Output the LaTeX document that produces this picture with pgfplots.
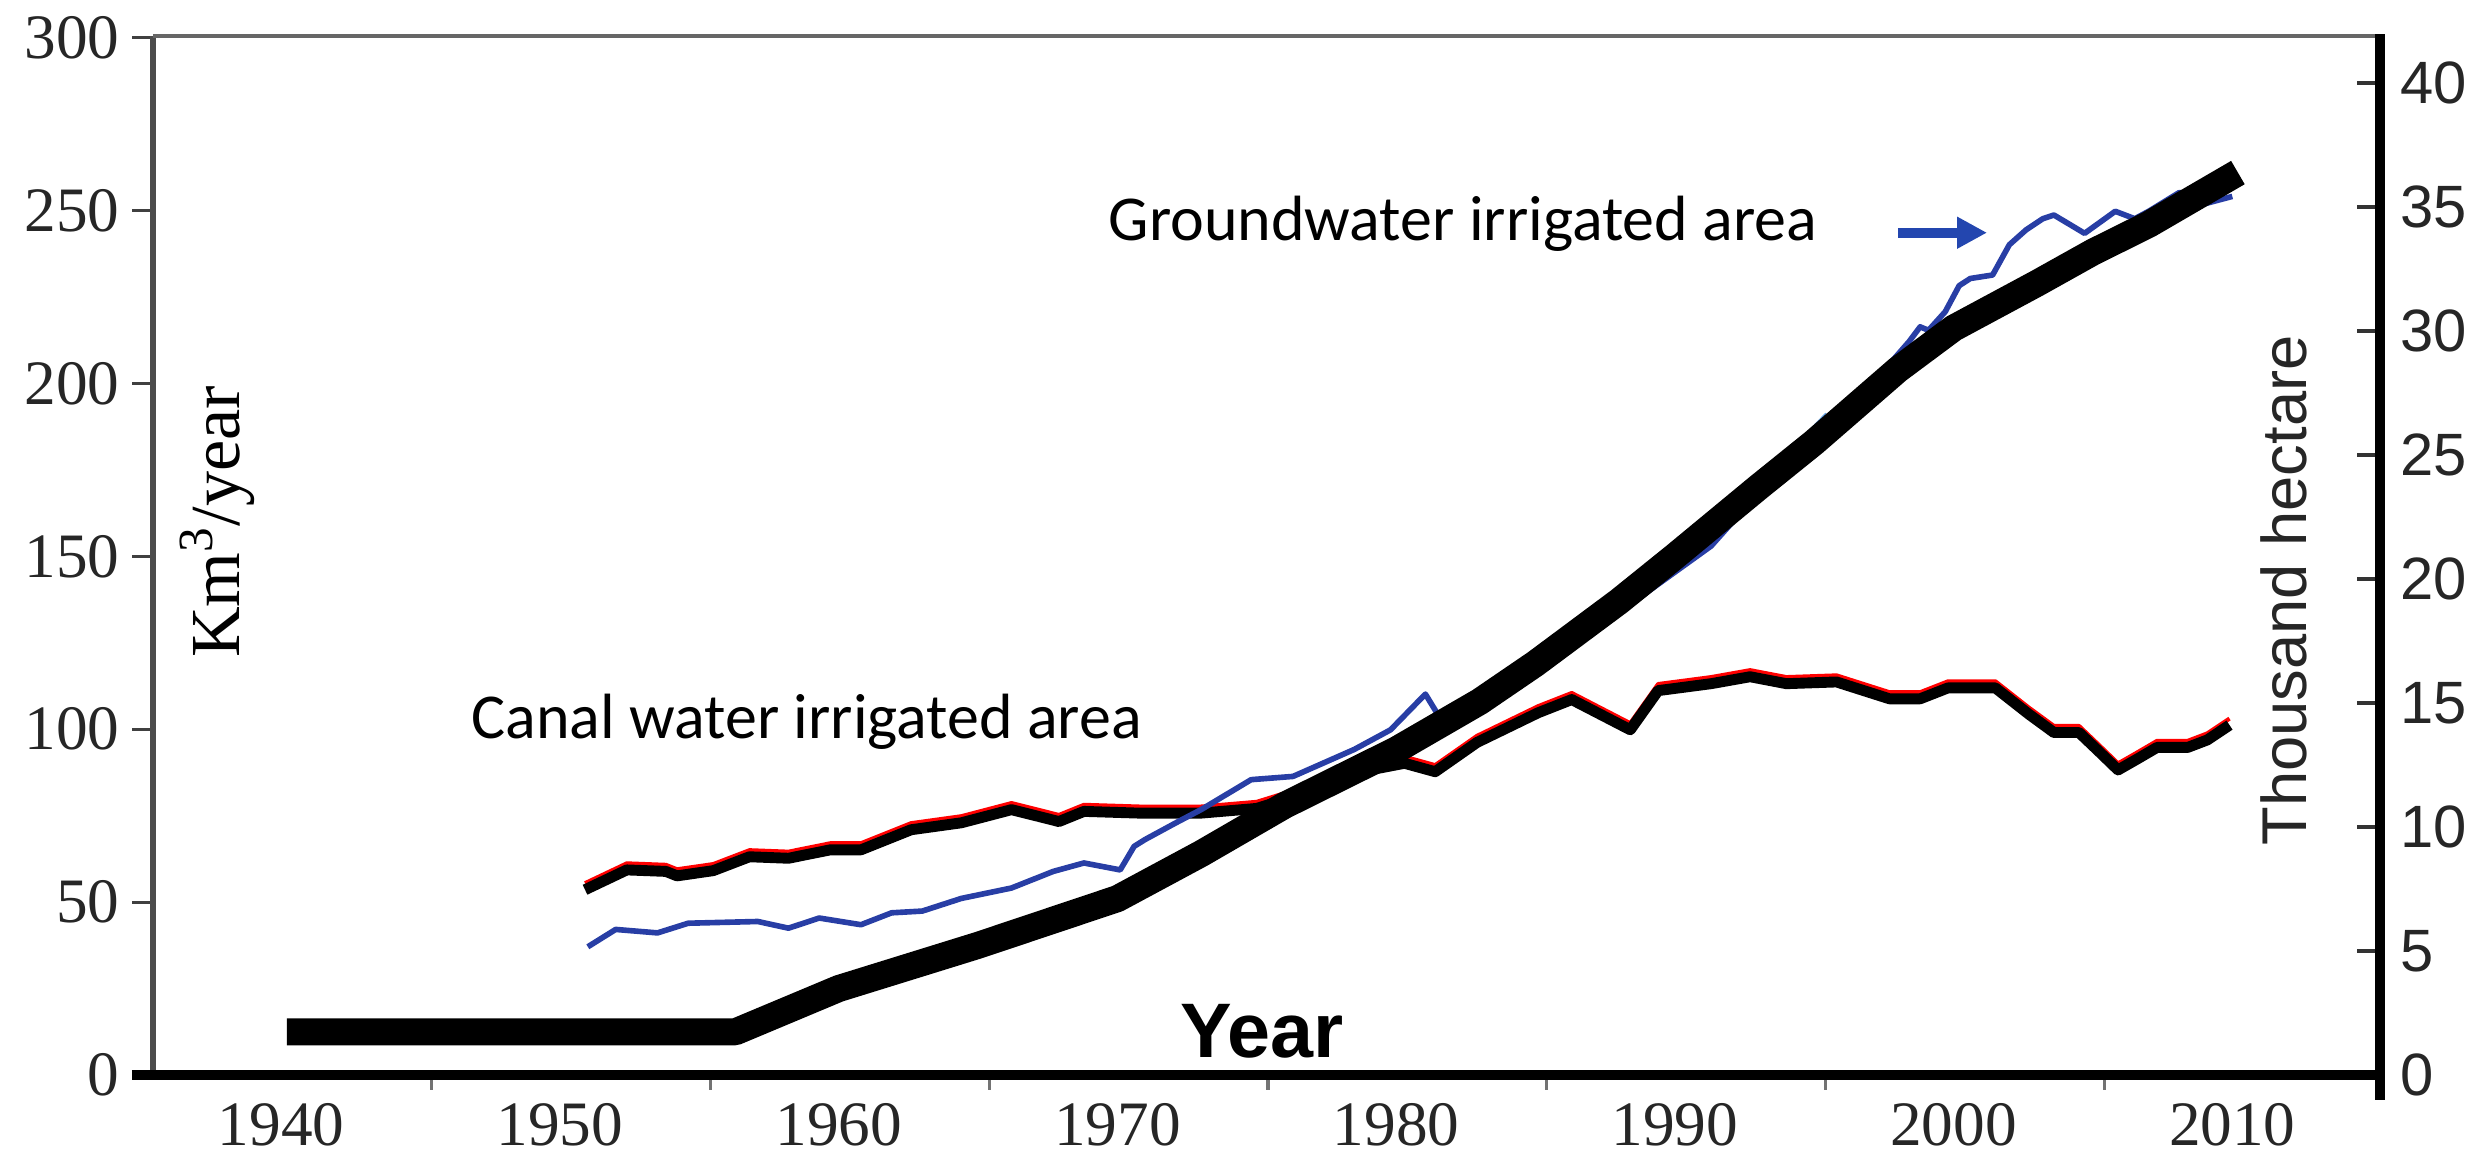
\documentclass[border=0pt]{standalone}
\usepackage{fontspec}
\setmainfont{Liberation Serif}
\newfontfamily\arial{Liberation Sans}
\newfontfamily\calibri{Carlito}
\usepackage{pgfplots}
\pgfplotsset{compat=1.18}
\usetikzlibrary{arrows.meta}
\definecolor{gwblue}{RGB}{40,62,165}
\definecolor{lightblue}{RGB}{100,160,225}
\definecolor{arrowblue}{RGB}{35,70,175}
\begin{document}
\begin{tikzpicture}
% ---------- right axis: irrigated areas (thousand hectare) ----------
\begin{axis}[
  at={(0,0)}, anchor=south west,
  scale only axis, width=22.27cm, height=10.39cm,
  xmin=1935.4, xmax=2015.3, ymin=0, ymax=41.9,
  axis x line=none, axis y line*=right,
  axis line style={draw=none},
  ytick={0,5,10,15,20,25,30,35,40},
  yticklabels={0,5,10,15,20,25,30,35,40},
  tick align=inside, major tick length=0.23cm,
  y tick style={black!80, line width=1pt},
  yticklabel style={font=\arial\fontsize{17}{17}\selectfont, black!85, anchor=west, xshift=0.08cm},
  clip=false,
]
\addplot[red, line width=1.2pt, line join=round, yshift=0.065cm] coordinates {
(1950.9,7.47)(1952.4,8.27)(1953.8,8.21)(1954.2,8.03)(1955.5,8.24)(1956.8,8.80)(1958.2,8.74)(1959.7,9.08)(1960.8,9.08)(1962.6,9.89)(1964.4,10.17)(1966.2,10.70)(1967.2,10.42)(1967.9,10.22)(1968.8,10.63)(1970.8,10.56)(1973,10.56)(1975,10.75)(1977,11.45)(1979,12.29)(1980.3,12.57)(1981.4,12.23)(1982.9,13.41)(1985.1,14.61)(1986.3,15.14)(1988.4,13.92)(1989.4,15.50)(1991.3,15.78)(1992.7,16.06)(1994,15.78)(1995.8,15.85)(1997.7,15.17)(1998.8,15.17)(1999.8,15.61)(2001.5,15.61)(2002.7,14.55)(2003.6,13.81)(2004.5,13.81)(2005.2,13.06)(2005.9,12.30)(2006.6,12.75)(2007.3,13.21)(2008.4,13.21)(2009.1,13.51)(2009.9,14.11)
};
\addplot[black, line width=3.1pt, line join=round] coordinates {
(1950.9,7.47)(1952.4,8.27)(1953.8,8.21)(1954.2,8.03)(1955.5,8.24)(1956.8,8.80)(1958.2,8.74)(1959.7,9.08)(1960.8,9.08)(1962.6,9.89)(1964.4,10.17)(1966.2,10.70)(1967.2,10.42)(1967.9,10.22)(1968.8,10.63)(1970.8,10.56)(1973,10.56)(1975,10.75)(1977,11.45)(1979,12.29)(1980.3,12.57)(1981.4,12.23)(1982.9,13.41)(1985.1,14.61)(1986.3,15.14)(1988.4,13.92)(1989.4,15.50)(1991.3,15.78)(1992.7,16.06)(1994,15.78)(1995.8,15.85)(1997.7,15.17)(1998.8,15.17)(1999.8,15.61)(2001.5,15.61)(2002.7,14.55)(2003.6,13.81)(2004.5,13.81)(2005.2,13.06)(2005.9,12.30)(2006.6,12.75)(2007.3,13.21)(2008.4,13.21)(2009.1,13.51)(2009.9,14.11)
};
\addplot[lightblue, line width=2.2pt] coordinates {
(1986.5,17.7)(1989,19.9)(1991.3,21.7)(1993.1,23.8)(1995.5,26.6)
};
\addplot[gwblue, line width=1.6pt, line join=round] coordinates {
(1951,5.17)(1952,5.87)(1953.5,5.73)(1954.6,6.12)(1957.1,6.19)(1958.2,5.92)(1959.3,6.33)(1960.8,6.06)(1961.9,6.54)(1963,6.61)(1964.4,7.12)(1966.2,7.54)(1967.7,8.21)(1968.8,8.55)(1970.1,8.27)(1970.6,9.22)(1971,9.50)(1972.1,10.17)(1973,10.70)(1974.8,11.91)(1976.3,12.04)(1978.5,13.13)(1979.8,13.92)(1981.05,15.36)(1981.5,14.53)(1983,15.36)(1985,16.48)(1986.5,17.43)(1989.1,19.55)(1991.3,21.33)(1993.1,23.60)(1994.5,25.36)(1996.1,27.02)(1997.7,28.67)(1998.4,29.57)(1998.8,30.17)(1999.1,30.03)(1999.7,30.78)(2000.2,31.83)(2000.6,32.12)(2001.4,32.26)(2002,33.48)(2002.6,34.08)(2003.2,34.53)(2003.6,34.68)(2004.7,33.94)(2005.8,34.83)(2006.5,34.53)(2007,34.83)(2008.1,35.59)(2009,35.13)(2010,35.43)
};
\end{axis}
% ---------- left axis: groundwater use (Km3/year) ----------
\begin{axis}[
  at={(0,0)}, anchor=south west,
  scale only axis, width=22.27cm, height=10.39cm,
  xmin=1935.4, xmax=2015.3, ymin=0, ymax=300.5,
  axis x line*=bottom, axis y line*=left,
  axis line style={draw=none},
  xtick={1940,1950,1960,1970,1980,1990,2000,2010},
  xticklabels={1940,1950,1960,1970,1980,1990,2000,2010},
  major x tick style={draw=none},
  extra x ticks={1945.4,1955.4,1965.4,1975.4,1985.4,1995.4,2005.4},
  extra x tick labels={},
  extra x tick style={tick align=outside, major tick length=0.15cm, major x tick style={draw=black!55, line width=0.9pt}},
  xticklabel style={font=\fontsize{18}{18}\selectfont, black!85, anchor=north, yshift=0.05cm},
  ytick={0,50,100,150,200,250,300},
  yticklabels={0,50,100,150,200,250,300},
  tick align=outside, major tick length=0.21cm,
  y tick style={black!75, line width=0.9pt},
  yticklabel style={font=\fontsize{18}{18}\selectfont, black!85, anchor=east},
  clip=false,
]
\addplot[black, line width=0.27cm, line join=round] coordinates {
(1940.2,12.5)(1956.3,12.5)(1960,25)(1965,37.5)(1970,51)(1973,64)(1976,78)(1980,94)(1983,108)(1985,119)(1988,137)(1990,150)(1993,170)(1995,183)(1998,204)(2000,216)(2003,229)(2005,238)(2007,246)(2010.2,261)
};
% spines
\draw[black!70, line width=1.6pt] (rel axis cs:0,0) -- (rel axis cs:0,1);
\draw[black!60, line width=0.9pt] (rel axis cs:0,1) -- (rel axis cs:1,1);
\draw[black, line width=2.6pt] ([xshift=-0.21cm]rel axis cs:0,0) -- (rel axis cs:1,0);
\draw[black, line width=3pt] ([yshift=-0.25cm]rel axis cs:1,0) -- ([yshift=0.02cm]rel axis cs:1,1);
% texts
\node[anchor=base, font=\calibri\fontsize{18.2}{21}\selectfont] at (axis cs:1958.85,97.4) {Canal water irrigated area};
\node[anchor=base, font=\calibri\fontsize{18.2}{21}\selectfont] at (axis cs:1982.4,241.3) {Groundwater irrigated area};
\draw[arrowblue, line width=2.8pt, -{Triangle[length=0.3cm,width=0.3cm]}] (axis cs:1998.0,243.6) -- (axis cs:2001.2,243.6);
\node[anchor=base, font=\arial\bfseries\fontsize{22}{24}\selectfont] at (axis cs:1975.2,5.2) {Year};
\node[anchor=base, rotate=90, font=\fontsize{20}{22}\selectfont] at (axis cs:1938.5,160) {Km\textsuperscript{3}/year};
\node[anchor=base, rotate=90, font=\arial\fontsize{18}{20}\selectfont, black!85] at (axis cs:2012.65,140.2) {Thousand hectare};
\end{axis}
\pgfresetboundingbox
\path[use as bounding box] (-1.53,-0.92) rectangle (23.30,10.75);
\end{tikzpicture}
\end{document}
